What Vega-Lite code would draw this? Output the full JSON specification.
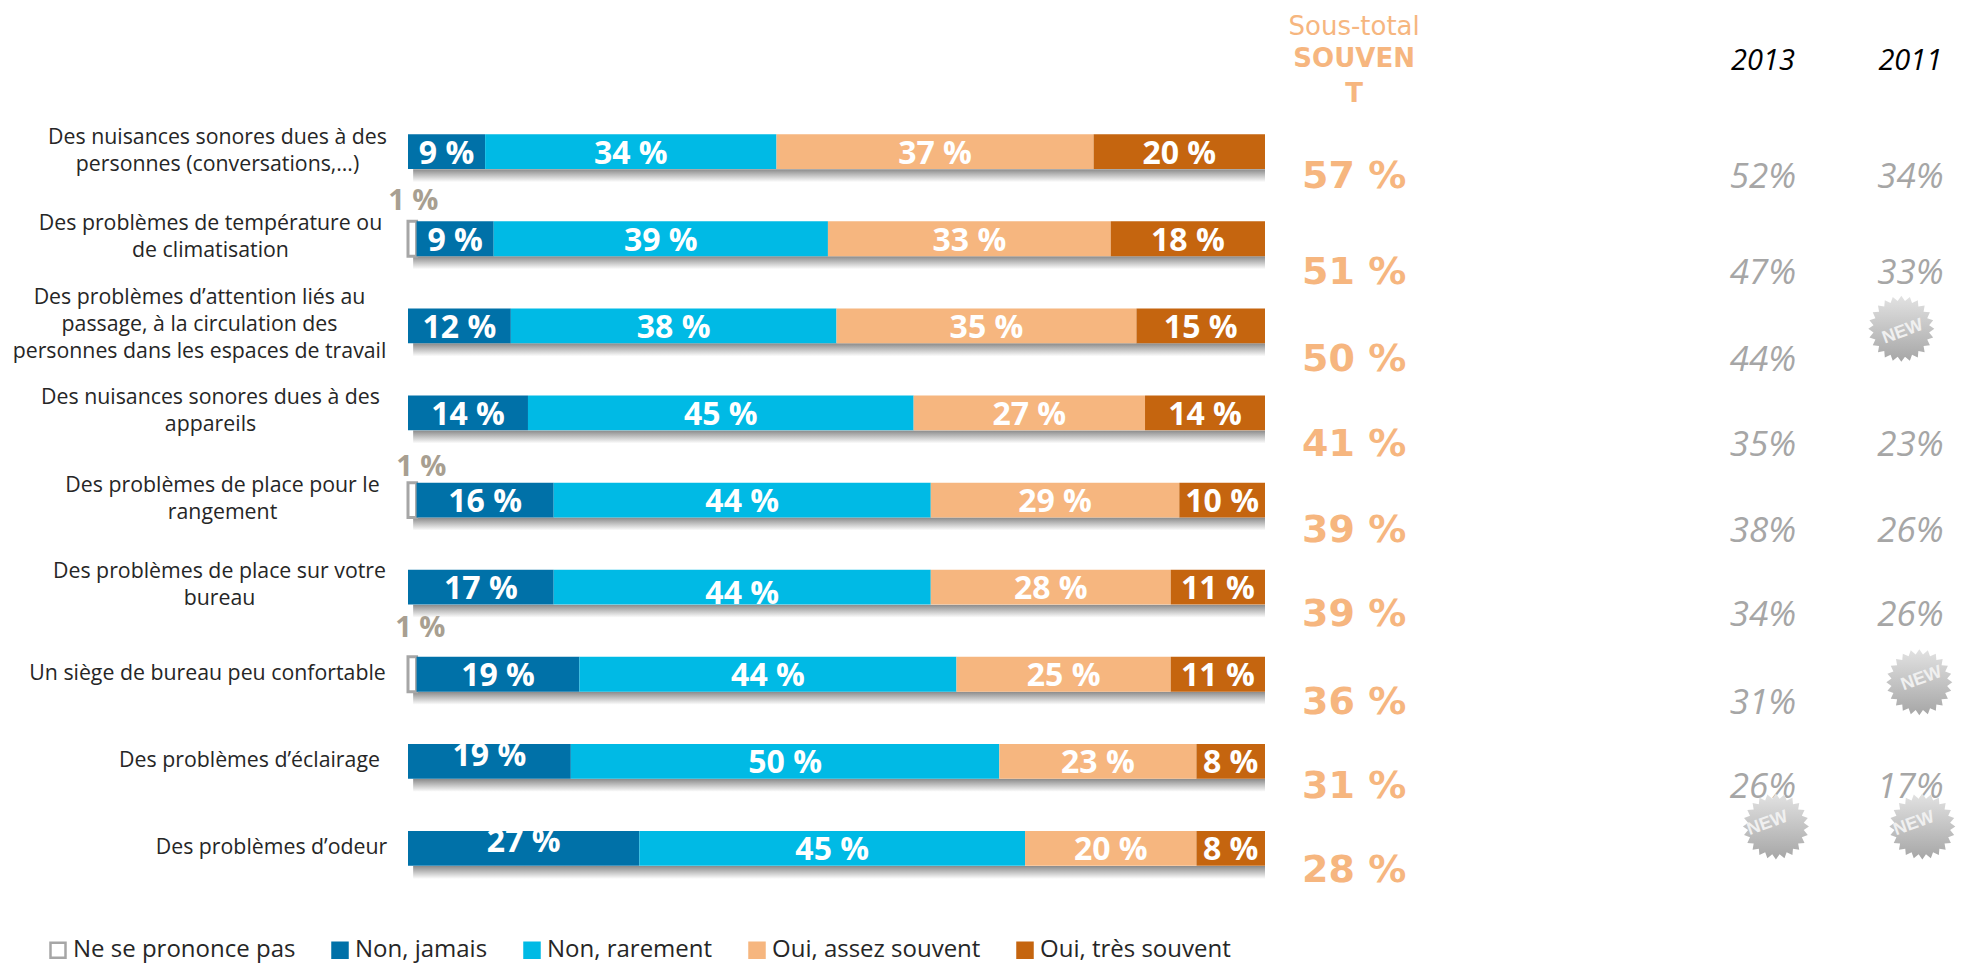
{
"$schema":"https://vega.github.io/schema/vega-lite/v6.json",
"width":857,"height":871,
"autosize":{"type":"none"},
"padding":{"left":408,"top":21,"right":699,"bottom":77},
"background":"#ffffff",
"config":{"view":{"stroke":null}},
"datasets":{
"reponses":[
{"rang":1,"item":"Des nuisances sonores dues à des\npersonnes (conversations,…)","reponse":"Non, jamais","ordre":2,"valeur":9},
{"rang":1,"item":"Des nuisances sonores dues à des\npersonnes (conversations,…)","reponse":"Non, rarement","ordre":3,"valeur":34},
{"rang":1,"item":"Des nuisances sonores dues à des\npersonnes (conversations,…)","reponse":"Oui, assez souvent","ordre":4,"valeur":37},
{"rang":1,"item":"Des nuisances sonores dues à des\npersonnes (conversations,…)","reponse":"Oui, très souvent","ordre":5,"valeur":20},
{"rang":2,"item":"Des problèmes de température ou\nde climatisation","reponse":"Ne se prononce pas","ordre":1,"valeur":1},
{"rang":2,"item":"Des problèmes de température ou\nde climatisation","reponse":"Non, jamais","ordre":2,"valeur":9},
{"rang":2,"item":"Des problèmes de température ou\nde climatisation","reponse":"Non, rarement","ordre":3,"valeur":39},
{"rang":2,"item":"Des problèmes de température ou\nde climatisation","reponse":"Oui, assez souvent","ordre":4,"valeur":33},
{"rang":2,"item":"Des problèmes de température ou\nde climatisation","reponse":"Oui, très souvent","ordre":5,"valeur":18},
{"rang":3,"item":"Des problèmes d’attention liés au\npassage, à la circulation des\npersonnes dans les espaces de travail","reponse":"Non, jamais","ordre":2,"valeur":12},
{"rang":3,"item":"Des problèmes d’attention liés au\npassage, à la circulation des\npersonnes dans les espaces de travail","reponse":"Non, rarement","ordre":3,"valeur":38},
{"rang":3,"item":"Des problèmes d’attention liés au\npassage, à la circulation des\npersonnes dans les espaces de travail","reponse":"Oui, assez souvent","ordre":4,"valeur":35},
{"rang":3,"item":"Des problèmes d’attention liés au\npassage, à la circulation des\npersonnes dans les espaces de travail","reponse":"Oui, très souvent","ordre":5,"valeur":15},
{"rang":4,"item":"Des nuisances sonores dues à des\nappareils","reponse":"Non, jamais","ordre":2,"valeur":14},
{"rang":4,"item":"Des nuisances sonores dues à des\nappareils","reponse":"Non, rarement","ordre":3,"valeur":45},
{"rang":4,"item":"Des nuisances sonores dues à des\nappareils","reponse":"Oui, assez souvent","ordre":4,"valeur":27},
{"rang":4,"item":"Des nuisances sonores dues à des\nappareils","reponse":"Oui, très souvent","ordre":5,"valeur":14},
{"rang":5,"item":"Des problèmes de place pour le\nrangement","reponse":"Ne se prononce pas","ordre":1,"valeur":1},
{"rang":5,"item":"Des problèmes de place pour le\nrangement","reponse":"Non, jamais","ordre":2,"valeur":16},
{"rang":5,"item":"Des problèmes de place pour le\nrangement","reponse":"Non, rarement","ordre":3,"valeur":44},
{"rang":5,"item":"Des problèmes de place pour le\nrangement","reponse":"Oui, assez souvent","ordre":4,"valeur":29},
{"rang":5,"item":"Des problèmes de place pour le\nrangement","reponse":"Oui, très souvent","ordre":5,"valeur":10},
{"rang":6,"item":"Des problèmes de place sur votre\nbureau","reponse":"Non, jamais","ordre":2,"valeur":17},
{"rang":6,"item":"Des problèmes de place sur votre\nbureau","reponse":"Non, rarement","ordre":3,"valeur":44},
{"rang":6,"item":"Des problèmes de place sur votre\nbureau","reponse":"Oui, assez souvent","ordre":4,"valeur":28},
{"rang":6,"item":"Des problèmes de place sur votre\nbureau","reponse":"Oui, très souvent","ordre":5,"valeur":11},
{"rang":7,"item":"Un siège de bureau peu confortable","reponse":"Ne se prononce pas","ordre":1,"valeur":1},
{"rang":7,"item":"Un siège de bureau peu confortable","reponse":"Non, jamais","ordre":2,"valeur":19},
{"rang":7,"item":"Un siège de bureau peu confortable","reponse":"Non, rarement","ordre":3,"valeur":44},
{"rang":7,"item":"Un siège de bureau peu confortable","reponse":"Oui, assez souvent","ordre":4,"valeur":25},
{"rang":7,"item":"Un siège de bureau peu confortable","reponse":"Oui, très souvent","ordre":5,"valeur":11},
{"rang":8,"item":"Des problèmes d’éclairage","reponse":"Non, jamais","ordre":2,"valeur":19},
{"rang":8,"item":"Des problèmes d’éclairage","reponse":"Non, rarement","ordre":3,"valeur":50},
{"rang":8,"item":"Des problèmes d’éclairage","reponse":"Oui, assez souvent","ordre":4,"valeur":23},
{"rang":8,"item":"Des problèmes d’éclairage","reponse":"Oui, très souvent","ordre":5,"valeur":8},
{"rang":9,"item":"Des problèmes d’odeur","reponse":"Non, jamais","ordre":2,"valeur":27},
{"rang":9,"item":"Des problèmes d’odeur","reponse":"Non, rarement","ordre":3,"valeur":45},
{"rang":9,"item":"Des problèmes d’odeur","reponse":"Oui, assez souvent","ordre":4,"valeur":20},
{"rang":9,"item":"Des problèmes d’odeur","reponse":"Oui, très souvent","ordre":5,"valeur":8}
],
"totaux":[
{"rang":1,"item":"Des nuisances sonores dues à des\npersonnes (conversations,…)","souvent":57,"y2013":52,"y2011":34},
{"rang":2,"item":"Des problèmes de température ou\nde climatisation","souvent":51,"y2013":47,"y2011":33},
{"rang":3,"item":"Des problèmes d’attention liés au\npassage, à la circulation des\npersonnes dans les espaces de travail","souvent":50,"y2013":44,"y2011":null},
{"rang":4,"item":"Des nuisances sonores dues à des\nappareils","souvent":41,"y2013":35,"y2011":23},
{"rang":5,"item":"Des problèmes de place pour le\nrangement","souvent":39,"y2013":38,"y2011":26},
{"rang":6,"item":"Des problèmes de place sur votre\nbureau","souvent":39,"y2013":34,"y2011":26},
{"rang":7,"item":"Un siège de bureau peu confortable","souvent":36,"y2013":31,"y2011":null},
{"rang":8,"item":"Des problèmes d’éclairage","souvent":31,"y2013":26,"y2011":17},
{"rang":9,"item":"Des problèmes d’odeur","souvent":28,"y2013":null,"y2011":null}
]
},
"encoding":{
"y":{"field":"item","type":"nominal","title":null,
"scale":{"domain":["Entête","Des nuisances sonores dues à des\npersonnes (conversations,…)","Des problèmes de température ou\nde climatisation","Des problèmes d’attention liés au\npassage, à la circulation des\npersonnes dans les espaces de travail","Des nuisances sonores dues à des\nappareils","Des problèmes de place pour le\nrangement","Des problèmes de place sur votre\nbureau","Un siège de bureau peu confortable","Des problèmes d’éclairage","Des problèmes d’odeur"],"paddingInner":0.6,"paddingOuter":0.3},
"axis":{"values":["Des nuisances sonores dues à des\npersonnes (conversations,…)","Des problèmes de température ou\nde climatisation","Des problèmes d’attention liés au\npassage, à la circulation des\npersonnes dans les espaces de travail","Des nuisances sonores dues à des\nappareils","Des problèmes de place pour le\nrangement","Des problèmes de place sur votre\nbureau","Un siège de bureau peu confortable","Des problèmes d’éclairage","Des problèmes d’odeur"],
"domain":false,"ticks":false,"grid":false,"labelFont":"Open Sans","labelFontSize":21.3,"labelColor":"#262626","labelLimit":0,"labelOverlap":false,"labelLineHeight":27,"labelBaseline":"middle","labelAlign":"center",
"labelExpr":"split(datum.label,'\\n')",
"labelOffset":{"expr":"[0,-14,-15,-28,-15,-14,-15,0,0,0][indexof(domain('y'),datum.value)]"},
"labelPadding":{"expr":"[0,191,198,209,198,186,189,201,159,137][indexof(domain('y'),datum.value)]"}}}
},
"layer":[
{"data":{"name":"totaux"},
"mark":{"type":"bar","size":13,"yOffset":24,"fill":{"gradient":"linear","x1":0,"y1":0,"x2":0,"y2":1,"stops":[{"offset":0,"color":"#8a8a8a"},{"offset":1,"color":"#ffffff"}]}},
"encoding":{"x":{"datum":0.6,"type":"quantitative","scale":{"domain":[0,100],"nice":false,"zero":false},"axis":null},"x2":{"datum":100}}},
{"data":{"name":"reponses"},
"transform":[{"stack":"valeur","groupby":["item"],"sort":[{"field":"ordre","order":"ascending"}],"as":["debut","fin"]}],
"mark":{"type":"bar","strokeWidth":{"expr":"datum.ordre==1?3:0"}},
"encoding":{
"x":{"field":"debut","type":"quantitative","axis":null},
"x2":{"field":"fin"},
"fill":{"field":"reponse","type":"nominal","title":null,
"scale":{"domain":["Ne se prononce pas","Non, jamais","Non, rarement","Oui, assez souvent","Oui, très souvent"],"range":["#ffffff","#0071A8","#00BAE5","#F6B67F","#C5650F"]},
"legend":{"orient":"none","legendX":-362,"legendY":917,"direction":"horizontal","columns":5,"symbolType":"square","symbolSize":225,"symbolStrokeWidth":2.5,"labelFont":"Open Sans","labelFontSize":24,"labelColor":"#262626","labelLimit":0,"columnPadding":31,"labelOffset":3,"gridAlign":"each","symbolOpacity":1}},
"stroke":{"field":"reponse","type":"nominal","scale":{"domain":["Ne se prononce pas","Non, jamais","Non, rarement","Oui, assez souvent","Oui, très souvent"],"range":["#A6A6A6","#0071A8","#00BAE5","#F6B67F","#C5650F"]}}}},
{"data":{"name":"reponses"},
"transform":[{"stack":"valeur","groupby":["item"],"sort":[{"field":"ordre","order":"ascending"}],"as":["debut","fin"]},{"calculate":"(datum.debut+datum.fin)/2","as":"centre"},{"calculate":"datum.valeur+' %'","as":"etiquette"},{"filter":"datum.ordre>1"}],
"mark":{"type":"text","font":"Open Sans","fontWeight":"bold","fontSize":32,"fill":"#ffffff","baseline":"middle","dy":{"expr":"datum.rang==8&&datum.ordre==2?-5:datum.rang==9&&datum.ordre==2?-6:datum.rang==6&&datum.ordre==3?7:2"}},
"encoding":{"x":{"field":"centre","type":"quantitative"},"text":{"field":"etiquette"}}},
{"data":{"name":"reponses"},
"transform":[{"filter":"datum.ordre==1"},{"calculate":"datum.valeur+' %'","as":"etiquette"}],
"mark":{"type":"text","font":"Open Sans","fontWeight":"bold","fontSize":29,"fill":"#A89F91","baseline":"middle","dy":{"expr":"datum.rang==2?-38:datum.rang==5?-33:-46"},"dx":{"expr":"datum.rang==5?9:datum.rang==7?8:1"}},
"encoding":{"x":{"datum":0.5},"text":{"field":"etiquette"}}},
{"data":{"name":"totaux"},
"transform":[{"calculate":"datum.souvent+' %'","as":"etiquette"}],
"mark":{"type":"text","font":"DejaVu Sans","fontWeight":"bold","fontSize":38,"fill":"#F6B67F","baseline":"middle","dy":{"expr":"[25,34,34,32,31,28,29,26,23][datum.rang-1]"}},
"encoding":{"x":{"datum":110.4},"text":{"field":"etiquette"}}},
{"data":{"name":"totaux"},
"transform":[{"filter":"isValid(datum.y2013)"},{"calculate":"datum.y2013+'%'","as":"etiquette"}],
"mark":{"type":"text","font":"Open Sans","fontStyle":"italic","fontSize":35,"fill":"#A6A6A6","baseline":"middle","dy":{"expr":"[25,34,34,32,31,28,29,26,23][datum.rang-1]"}},
"encoding":{"x":{"datum":158.1},"text":{"field":"etiquette"}}},
{"data":{"name":"totaux"},
"transform":[{"filter":"isValid(datum.y2011)"},{"calculate":"datum.y2011+'%'","as":"etiquette"}],
"mark":{"type":"text","font":"Open Sans","fontStyle":"italic","fontSize":35,"fill":"#A6A6A6","baseline":"middle","dy":{"expr":"[25,34,34,32,31,28,29,26,23][datum.rang-1]"}},
"encoding":{"x":{"datum":175.3},"text":{"field":"etiquette"}}},
{"data":{"values":[{"colonne":"Sous-total","item":"Entête"}]},
"mark":{"type":"text","font":"DejaVu Sans","fontSize":26,"fill":"#F6B67F","baseline":"middle","dy":-38},
"encoding":{"x":{"datum":110.4},"text":{"field":"colonne"}}},
{"data":{"values":[{"colonne":"SOUVEN","item":"Entête"},{"colonne":"T","item":"Entête"}]},
"mark":{"type":"text","font":"DejaVu Sans","fontWeight":"bold","fontSize":26,"fill":"#F6B67F","baseline":"middle","dy":{"expr":"datum.colonne=='T'?29:-6"}},
"encoding":{"x":{"datum":110.4},"text":{"field":"colonne"}}},
{"data":{"values":[{"colonne":"2013","item":"Entête"}]},
"mark":{"type":"text","font":"Open Sans","fontStyle":"italic","fontSize":29,"fill":"#000000","baseline":"middle","dy":-4},
"encoding":{"x":{"datum":158.1},"text":{"field":"colonne"}}},
{"data":{"values":[{"colonne":"2011","item":"Entête"}]},
"mark":{"type":"text","font":"Open Sans","fontStyle":"italic","fontSize":29,"fill":"#000000","baseline":"middle","dy":-4},
"encoding":{"x":{"datum":175.3},"text":{"field":"colonne"}}},
{"data":{"name":"totaux"},
"transform":[{"filter":"datum.rang==9"}],
"mark":{"type":"point","filled":true,"size":4356,"opacity":1,"yOffset":-22,"xOffset":13,"shape":"M1,0L.843,.111L.966,.259L.785,.325L.866,.5L.674,.517L.707,.707L.517,.674L.5,.866L.325,.785L.259,.966L.111,.843L0,1L-.111,.843L-.259,.966L-.325,.785L-.5,.866L-.517,.674L-.707,.707L-.674,.517L-.866,.5L-.785,.325L-.966,.259L-.843,.111L-1,0L-.843,-.111L-.966,-.259L-.785,-.325L-.866,-.5L-.674,-.517L-.707,-.707L-.517,-.674L-.5,-.866L-.325,-.785L-.259,-.966L-.111,-.843L0,-1L.111,-.843L.259,-.966L.325,-.785L.5,-.866L.517,-.674L.707,-.707L.674,-.517L.866,-.5L.785,-.325L.966,-.259L.843,-.111Z","fill":{"gradient":"linear","x1":0,"y1":0,"x2":0,"y2":1,"stops":[{"offset":0,"color":"#E2E2E2"},{"offset":1,"color":"#A6A6A6"}]}},
"encoding":{"x":{"datum":158.1}}},
{"data":{"name":"totaux"},
"transform":[{"filter":"datum.rang==3||datum.rang==7||datum.rang==9"}],
"mark":{"type":"point","filled":true,"size":4356,"opacity":1,"yOffset":{"expr":"datum.rang==3?3:datum.rang==7?8:-22"},"xOffset":{"expr":"datum.rang==3?-9:datum.rang==7?9:12"},"shape":"M1,0L.843,.111L.966,.259L.785,.325L.866,.5L.674,.517L.707,.707L.517,.674L.5,.866L.325,.785L.259,.966L.111,.843L0,1L-.111,.843L-.259,.966L-.325,.785L-.5,.866L-.517,.674L-.707,.707L-.674,.517L-.866,.5L-.785,.325L-.966,.259L-.843,.111L-1,0L-.843,-.111L-.966,-.259L-.785,-.325L-.866,-.5L-.674,-.517L-.707,-.707L-.517,-.674L-.5,-.866L-.325,-.785L-.259,-.966L-.111,-.843L0,-1L.111,-.843L.259,-.966L.325,-.785L.5,-.866L.517,-.674L.707,-.707L.674,-.517L.866,-.5L.785,-.325L.966,-.259L.843,-.111Z","fill":{"gradient":"linear","x1":0,"y1":0,"x2":0,"y2":1,"stops":[{"offset":0,"color":"#E2E2E2"},{"offset":1,"color":"#A6A6A6"}]}},
"encoding":{"x":{"datum":175.3}}},
{"data":{"name":"totaux"},
"transform":[{"filter":"datum.rang==9"}],
"mark":{"type":"text","text":"NEW","font":"Liberation Sans","fontWeight":"bold","fontSize":18,"fill":"#F0F0F0","angle":340,"baseline":"middle","dy":-22,"dx":13},
"encoding":{"x":{"datum":158.1}}},
{"data":{"name":"totaux"},
"transform":[{"filter":"datum.rang==3||datum.rang==7||datum.rang==9"}],
"mark":{"type":"text","text":"NEW","font":"Liberation Sans","fontWeight":"bold","fontSize":18,"fill":"#F0F0F0","angle":340,"baseline":"middle","dy":{"expr":"datum.rang==3?3:datum.rang==7?8:-22"},"dx":{"expr":"datum.rang==3?-9:datum.rang==7?9:12"}},
"encoding":{"x":{"datum":175.3}}}
]
}
